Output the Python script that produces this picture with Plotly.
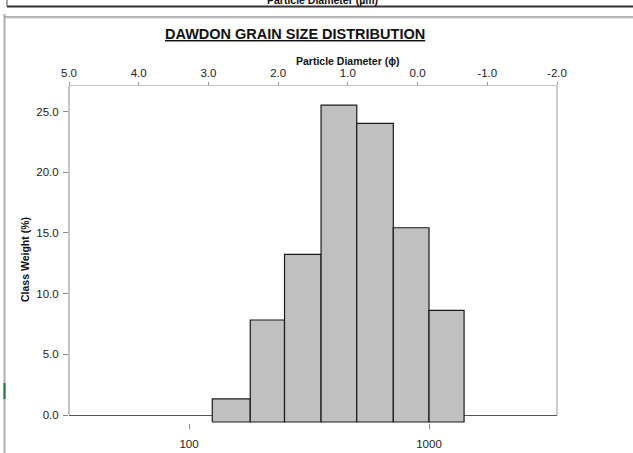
import plotly.graph_objects as go

# Sieve class edges (micrometres) and class weights (%)
sieve_edges_um = [125, 180, 250, 355, 500, 710, 1000, 1400]
class_weight_pct = [1.9, 8.4, 13.8, 26.1, 24.6, 16.0, 9.2]

# Axis tick definitions
phi_ticks = [5.0, 4.0, 3.0, 2.0, 1.0, 0.0, -1.0, -2.0]
um_ticks = [100, 1000]
weight_ticks = [0.0, 5.0, 10.0, 15.0, 20.0, 25.0]

FONT = "Arial, 'Liberation Sans', sans-serif"
W_FIG, H_FIG = 633, 453
L, R, T, B = 69, 557, 86, 423  # plot area edges in pixels


def px_x(p):
    return (p - L) / (R - L)


def px_y(p):
    return (B - p) / (B - T)


fig = go.Figure()

# Histogram bars as closed polygons on the log-diameter axis
for lo, hi, w in zip(sieve_edges_um[:-1], sieve_edges_um[1:], class_weight_pct):
    fig.add_trace(go.Scatter(
        x=[lo, lo, hi, hi, lo], y=[0, w, w, 0, 0],
        xaxis="x", yaxis="y2", mode="lines", fill="toself",
        fillcolor="#c0c0c0", line=dict(color="#1a1a1a", width=1.2),
        hoverinfo="skip", showlegend=False,
    ))

# Anchor traces so the phi and weight axes are laid out
fig.add_trace(go.Scatter(x=um_ticks, y=[0, 0], xaxis="x", yaxis="y",
                         mode="none", hoverinfo="skip", showlegend=False))
fig.add_trace(go.Scatter(x=phi_ticks, y=[0] * len(phi_ticks), xaxis="x2", yaxis="y",
                         mode="none", hoverinfo="skip", showlegend=False))

y_top = (415 - T) / 12.14
y_bot = -(B - 415) / 12.14

tick_font = dict(family=FONT, size=11.5, color="#222")

fig.update_layout(
    template="none",
    width=W_FIG, height=H_FIG,
    margin=dict(l=L, r=W_FIG - R, t=T, b=H_FIG - B, pad=0, autoexpand=False),
    paper_bgcolor="white", plot_bgcolor="white",
    showlegend=False,
    xaxis=dict(
        type="log", range=[1.5, 3.5333], anchor="y", automargin=False,
        tickvals=um_ticks, ticktext=[str(v) for v in um_ticks],
        ticks="outside", ticklen=5, tickcolor="#888", tickwidth=1,
        ticklabelstandoff=5,
        showline=False, showgrid=False, zeroline=False, tickfont=tick_font,
    ),
    xaxis2=dict(
        overlaying="x", side="top", anchor="y", range=[5, -2], automargin=False,
        tickvals=phi_ticks, ticktext=[f"{v:.1f}" for v in phi_ticks],
        ticks="outside", ticklen=3, tickcolor="#999", tickwidth=1,
        showline=True, linecolor="#c4c4c4", linewidth=1,
        showgrid=False, zeroline=False, tickfont=tick_font,
    ),
    yaxis=dict(
        range=[y_bot, y_top], automargin=False,
        tickvals=weight_ticks, ticktext=[f"{v:.1f}" for v in weight_ticks],
        ticks="outside", ticklen=5, tickcolor="#888", tickwidth=1,
        ticklabelstandoff=2,
        showline=False, showgrid=False,
        zeroline=True, zerolinecolor="#555", zerolinewidth=1,
        tickfont=tick_font,
    ),
    yaxis2=dict(
        overlaying="y", range=[-1 / 12.14, (422 - T) / 12.14], automargin=False,
        visible=False, showgrid=False, zeroline=False,
    ),
)

# Left axis line and right frame edge, running from zero to the top
for xp, col in [(0, "#888"), (1, "#999")]:
    fig.add_shape(type="line", xref="paper", yref="y", x0=xp, x1=xp,
                  y0=0, y1=y_top, line=dict(color=col, width=1), layer="above")

# Chart title and axis titles
fig.add_annotation(text="<b><u>DAWDON GRAIN SIZE DISTRIBUTION</u></b>",
                   xref="paper", yref="paper", x=px_x(294.5), y=px_y(34),
                   xanchor="center", yanchor="middle", showarrow=False,
                   font=dict(family=FONT, size=14.5, color="#111"))
fig.add_annotation(text="<b>Particle Diameter (ϕ)</b>",
                   xref="paper", yref="paper", x=px_x(348), y=px_y(61),
                   xanchor="center", yanchor="middle", showarrow=False,
                   font=dict(family=FONT, size=10.5, color="#111"))
fig.add_annotation(text="<b>Class Weight (%)</b>", textangle=-90,
                   xref="paper", yref="paper", x=px_x(25), y=px_y(260),
                   xanchor="center", yanchor="middle", showarrow=False,
                   font=dict(family=FONT, size=10.5, color="#111"))

# Edge of the neighbouring chart above, with its axis title
fig.add_annotation(text="<b>Particle Diameter (µm)</b>",
                   xref="paper", yref="paper", x=px_x(322), y=px_y(0),
                   xanchor="center", yanchor="middle", showarrow=False,
                   font=dict(family=FONT, size=10.5, color="#111"))
frame_lines = [
    (7, 0, 7, 7, "#555", 1),
    (7, 6.5, 633, 6.5, "#333", 2),
    (4.5, 14, 4.5, 453, "#b0b0b0", 2),
    (4, 17, 633, 17, "#666", 1),
    (4, 18, 633, 18, "#c8c8c8", 1),
    (4.5, 383, 4.5, 399, "#217346", 2),
]
for x0, y0, x1, y1, col, lw in frame_lines:
    fig.add_shape(type="line", xref="paper", yref="paper",
                  x0=px_x(x0), y0=px_y(y0), x1=px_x(x1), y1=px_y(y1),
                  line=dict(color=col, width=lw), layer="above")

fig.write_html("out.html")
